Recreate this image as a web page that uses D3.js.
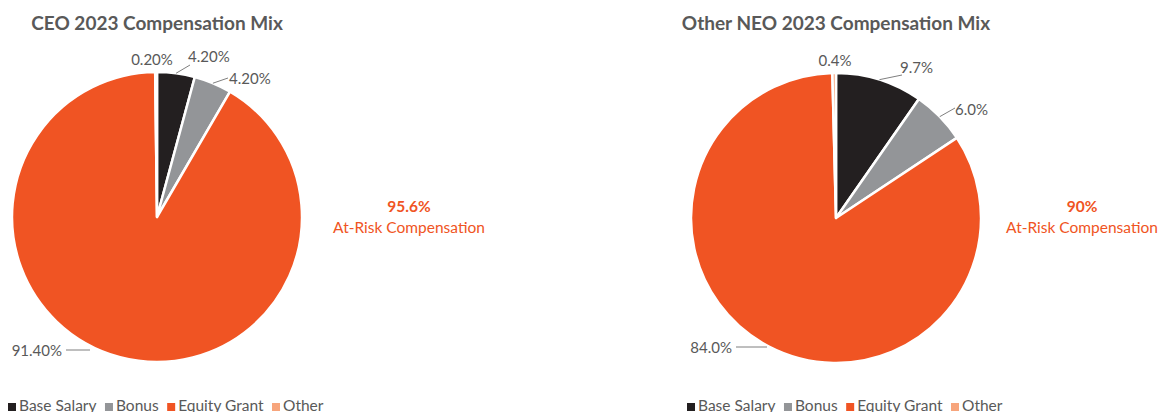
<!DOCTYPE html>
<html>
<head>
<meta charset="utf-8">
<script src="https://cdn.jsdelivr.net/npm/d3@7"></script>
<style>
  html, body { margin: 0; padding: 0; background: #fff; }
  svg { display: block; font-family: Lato, "Open Sans", sans-serif; }
</style>
</head>
<body>
<svg id="chart" width="1161" height="412"></svg>
<script>
// data
var categories = ["Base Salary", "Bonus", "Equity Grant", "Other"];
var ceoValues = [4.2, 4.2, 91.4, 0.2];
var neoValues = [9.7, 6.0, 84.0, 0.4];
var ceoLabels = ["4.20%", "4.20%", "91.40%", "0.20%"];
var neoLabels = ["9.7%", "6.0%", "84.0%", "0.4%"];
var titles = ["CEO 2023 Compensation Mix", "Other NEO 2023 Compensation Mix"];
var atRiskValues = ["95.6%", "90%"];
var atRiskText = "At-Risk Compensation";

var colors = ["#231f20", "#939598", "#f05423", "#f7a57c"];
var textGray = "#595959";

// layout for each pie (label placement is relative to the pie centre)
var charts = [
    {
        cx: 157, cy: 217, r: 145, title: titles[0], values: ceoValues, labels: ceoLabels, risk: atRiskValues[0], riskX: 252,
        place: [
            { x: 31, y: -155, anchor: "start", leader: "arc", ex: 33, ey: -152 },
            { x: 72, y: -133, anchor: "start", leader: "arc", ex: 71, ey: -139 },
            { x: -95, y: 139, anchor: "end", leader: "flat", len: 24 },
            { x: -5, y: -152, anchor: "middle", leader: null }
        ]
    },
    {
        cx: 836, cy: 218, r: 145, title: titles[1], values: neoValues, labels: neoLabels, risk: atRiskValues[1], riskX: 246,
        place: [
            { x: 64, y: -145, anchor: "start", leader: "arc", ex: 66, ey: -143 },
            { x: 119, y: -103, anchor: "start", leader: "arc", ex: 119, ey: -110 },
            { x: -104, y: 135, anchor: "end", leader: "flat", len: 31 },
            { x: -1, y: -152, anchor: "middle", leader: null }
        ]
    }
];

var svg = d3.select("#chart");
var color = d3.scaleOrdinal().domain(categories).range(colors);
var pie = d3.pie().sort(null).value(function (d) { return d.value; });

charts.forEach(function (c) {
    var g = svg.append("g").attr("transform", "translate(" + c.cx + "," + c.cy + ")");
    var data = categories.map(function (k, i) { return { key: k, value: c.values[i], label: c.labels[i] }; });
    var arcs = pie(data);
    var arc = d3.arc().innerRadius(0).outerRadius(c.r);
    var edge = d3.arc().innerRadius(c.r).outerRadius(c.r);

    // title
    svg.append("text")
        .attr("x", c.cx).attr("y", 30)
        .attr("text-anchor", "middle")
        .attr("font-size", 19).attr("font-weight", "bold")
        .attr("fill", textGray)
        .text(c.title);

    // slices
    g.selectAll("path.slice").data(arcs).enter().append("path")
        .attr("class", "slice")
        .attr("d", arc)
        .attr("fill", function (d) { return color(d.data.key); })
        .attr("stroke", "#fff")
        .attr("stroke-width", 2.5)
        .attr("stroke-linejoin", "round");

    // data labels and leader lines
    arcs.forEach(function (d, i) {
        var p = c.place[i];
        g.append("text")
            .attr("x", p.x).attr("y", p.y)
            .attr("text-anchor", p.anchor)
            .attr("font-size", 15)
            .attr("fill", textGray)
            .text(d.data.label);
        if (p.leader === "arc") {
            var s = edge.centroid(d);
            g.append("line")
                .attr("x1", s[0]).attr("y1", s[1])
                .attr("x2", p.ex).attr("y2", p.ey)
                .attr("stroke", "#7f7f7f").attr("stroke-width", 1);
        } else if (p.leader === "flat") {
            g.append("line")
                .attr("x1", p.x + 4).attr("x2", p.x + 4 + p.len)
                .attr("y1", p.y - 6).attr("y2", p.y - 6)
                .attr("stroke", "#7f7f7f").attr("stroke-width", 1);
        }
    });

    // at-risk annotation
    svg.append("text")
        .attr("x", c.cx + c.riskX).attr("y", 212)
        .attr("text-anchor", "middle")
        .attr("font-size", 15.5).attr("font-weight", "bold")
        .attr("fill", colors[2])
        .text(c.risk);
    svg.append("text")
        .attr("x", c.cx + c.riskX).attr("y", 233)
        .attr("text-anchor", "middle")
        .attr("font-size", 15.5)
        .attr("fill", colors[2])
        .text(atRiskText);

    // legend
    var lx = c.cx - 149;
    categories.forEach(function (k) {
        svg.append("rect")
            .attr("x", lx).attr("y", 403)
            .attr("width", 8).attr("height", 8)
            .attr("fill", color(k));
        var lt = svg.append("text")
            .attr("x", lx + 11).attr("y", 411)
            .attr("font-size", 15.5)
            .attr("fill", textGray)
            .text(k);
        lx += 11 + lt.node().getComputedTextLength() + 8.5;
    });
});
</script>
</body>
</html>
